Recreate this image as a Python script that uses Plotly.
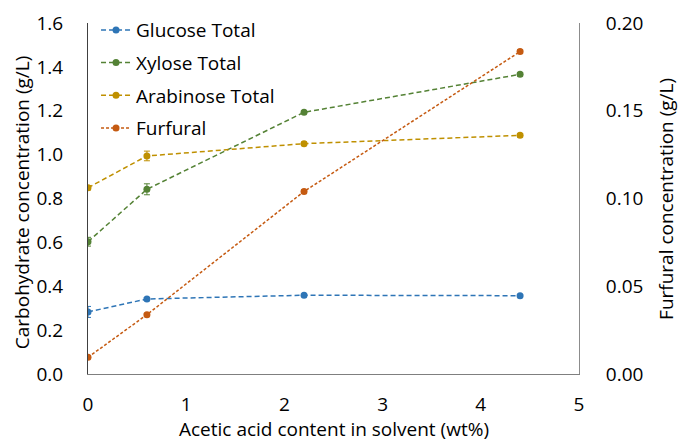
import plotly.graph_objects as go

# Acetic acid content in solvent (wt%)
acetic = [0, 0.6, 2.2, 4.4]

# Carbohydrate concentrations (g/L)
glucose = [0.283, 0.342, 0.359, 0.357]
xylose = [0.603, 0.842, 1.193, 1.366]
arabinose = [0.849, 0.994, 1.050, 1.088]

# Furfural concentration (g/L)
furfural = [0.0095, 0.0338, 0.104, 0.1837]

# Standard deviations
glucose_err = [0.025, 0.006, 0.004, 0.004]
xylose_err = [0.02, 0.025, 0.006, 0.008]
arabinose_err = [0.01, 0.022, 0.008, 0.008]
furfural_err = [0.0008, 0.0008, 0.001, 0.001]

x_ticks = [0, 1, 2, 3, 4, 5]
y_ticks = [0.0, 0.2, 0.4, 0.6, 0.8, 1.0, 1.2, 1.4, 1.6]
y2_ticks = [0.00, 0.05, 0.10, 0.15, 0.20]

FONT = "Open Sans"
FS = 19
series = [
    ("Glucose Total", glucose, glucose_err, "#2E75B6", "y", "5px,3px"),
    ("Xylose Total", xylose, xylose_err, "#548235", "y", "5px,3px"),
    ("Arabinose Total", arabinose, arabinose_err, "#BF9000", "y", "5px,3px"),
    ("Furfural", furfural, furfural_err, "#C55A11", "y2", "3px,2px"),
]

fig = go.Figure()
for i, (name, vals, err, color, axis, dash) in enumerate(series):
    fig.add_trace(go.Scatter(
        x=acetic, y=vals, name=name, yaxis=axis, mode="lines+markers",
        legendgroup=f"g{i}",
        line=dict(color=color, width=1.5, dash=dash),
        marker=dict(color=color, size=7),
        error_y=dict(type="data", array=err, visible=True,
                     color=color, thickness=1, width=3),
    ))

axis_common = dict(showgrid=False, zeroline=False, showline=True,
                   ticks="", automargin=False)

fig.update_layout(
    width=681, height=441,
    margin=dict(l=88, r=102, t=23, b=67, autoexpand=False),
    paper_bgcolor="white", plot_bgcolor="white",
    font=dict(family=FONT, size=FS, color="#000000"),
    showlegend=True,
    legend=dict(x=0.141, y=0.975, xref="container", yref="container",
                xanchor="left", yanchor="top",
                bgcolor="rgba(0,0,0,0)", font=dict(size=FS),
                tracegroupgap=5, itemwidth=30),
    xaxis=dict(range=[0, 5], tickvals=x_ticks, ticktext=[str(v) for v in x_ticks],
               linecolor="#7F7F7F", linewidth=1, ticklabelstandoff=13,
               **axis_common),
    yaxis=dict(range=[0, 1.6], tickvals=y_ticks,
               ticktext=[f"{v:.1f}" for v in y_ticks],
               linecolor="#404040", linewidth=1.2, ticklabelstandoff=20,
               **axis_common),
    yaxis2=dict(range=[0, 0.2], tickvals=y2_ticks,
                ticktext=[f"{v:.2f}" for v in y2_ticks],
                overlaying="y", side="right",
                linecolor="#8C8C8C", linewidth=1, ticklabelstandoff=22,
                **axis_common),
    annotations=[
        dict(text="Acetic acid content in solvent (wt%)", xref="paper", yref="paper",
             x=0.5, y=-0.158, xanchor="center", yanchor="middle",
             showarrow=False, font=dict(size=FS)),
        dict(text="Carbohydrate concentration (g/L)", xref="paper", yref="paper",
             x=-0.134, y=0.49, xanchor="center", yanchor="middle", textangle=-90,
             showarrow=False, font=dict(size=FS)),
        dict(text="Furfural concentration (g/L)", xref="paper", yref="paper",
             x=1.176, y=0.5, xanchor="center", yanchor="middle", textangle=-90,
             showarrow=False, font=dict(size=FS)),
    ],
)

fig.write_html("out.html")
